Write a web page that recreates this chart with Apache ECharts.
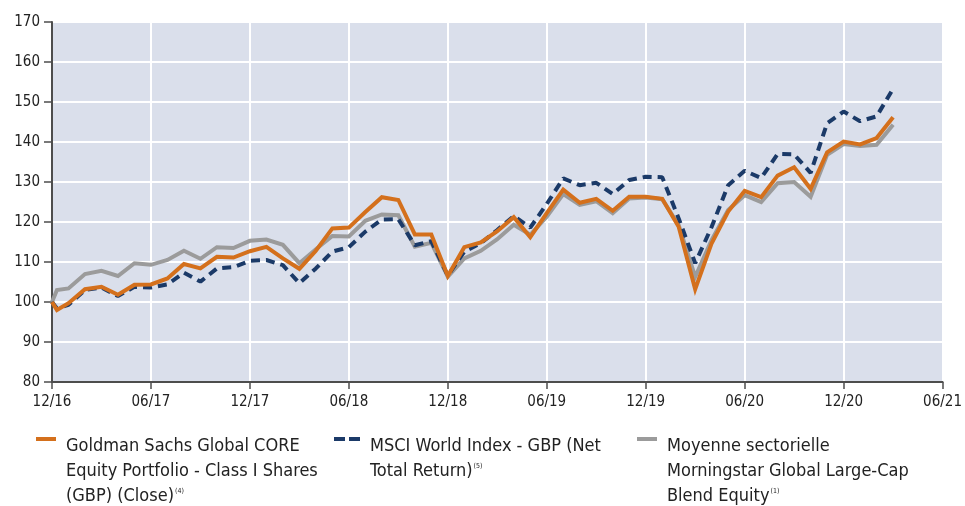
<!DOCTYPE html>
<html>
<head>
<meta charset="utf-8">
<script src="https://cdn.jsdelivr.net/npm/echarts@6/dist/echarts.min.js"></script>
<style>
  html, body { margin: 0; padding: 0; background: #fff; }
  #chart { width: 965px; height: 506px; }
</style>
</head>
<body>
<div id="chart"></div>
<script>
// months since 12/16 : start point, Dec 2016 close, then Jan 2017 .. Mar 2021
const monthPos = [0, 0.3].concat(Array.from({ length: 51 }, (_, i) => i + 1))
const xTickLabels = ['12/16', '06/17', '12/17', '06/18', '12/18', '06/19', '12/19', '06/20', '12/20', '06/21']

const fund = [
  100, 98.0,
  99.7, 103.2, 103.8, 101.8, 104.3, 104.4, 105.9, 109.5, 108.4, 111.3, 111.1, 112.7,
  113.8, 110.9, 108.3, 112.8, 118.4, 118.6, 122.5, 126.2, 125.5, 116.9, 116.9, 106.5,
  113.7, 114.9, 117.7, 121.2, 116.2, 122.2, 128.1, 124.8, 125.8, 122.8, 126.3, 126.3,
  125.8, 118.8, 103.2, 114.7, 122.6, 127.8, 126.2, 131.6, 133.7, 128.3, 137.4, 140.1,
  139.4, 141.0, 146.2
]
const msci = [
  100, 98.4,
  99.3, 103.0, 103.6, 101.5, 103.8, 103.6, 104.4, 107.3, 105.1, 108.4, 108.7, 110.3,
  110.5, 109.2, 104.7, 108.4, 112.6, 113.7, 117.6, 120.6, 120.7, 114.2, 115.2, 106.6,
  112.6, 114.7, 118.0, 121.5, 118.6, 124.5, 130.9, 129.2, 129.8, 127.0, 130.5, 131.3,
  131.2, 120.9, 109.7, 118.8, 129.2, 132.8, 131.0, 137.0, 136.9, 132.3, 144.7, 147.6,
  145.2, 146.4, 153.3
]
const sector = [
  100, 103.0,
  103.4, 107.0, 107.8, 106.5, 109.7, 109.3, 110.5, 112.8, 110.8, 113.7, 113.5, 115.3,
  115.6, 114.3, 109.7, 113.2, 116.5, 116.4, 120.3, 121.9, 121.7, 113.8, 114.8, 106.3,
  110.9, 112.8, 115.7, 119.3, 116.8, 121.3, 127.0, 124.3, 125.2, 122.2, 125.9, 126.1,
  125.7, 119.2, 106.3, 115.5, 123.0, 126.7, 125.0, 129.7, 130.0, 126.3, 136.8, 139.5,
  139.0, 139.3, 144.3
]

const names = [
  'Goldman Sachs Global CORE Equity Portfolio - Class I Shares (GBP) (Close)',
  'MSCI World Index - GBP (Net Total Return)',
  'Moyenne sectorielle Morningstar Global Large-Cap Blend Equity'
]
const legendLines = [
  ['Goldman Sachs Global CORE', 'Equity Portfolio - Class I Shares', '(GBP) (Close)'],
  ['MSCI World Index - GBP (Net', 'Total Return)'],
  ['Moyenne sectorielle', 'Morningstar Global Large-Cap', 'Blend Equity']
]
const legendNotes = ['(4)', '(5)', '(1)']

const FONT = '"Liberation Sans Narrow", "DejaVu Sans Condensed", sans-serif'
const ORANGE = '#d4701c'
const NAVY = '#1b3a68'
const GREY = '#9b9b9b'

function pairs(vals) {
  return vals.map((v, i) => [monthPos[i], v])
}

function legendAt(idx, left, icon, width) {
  const lines = legendLines[idx]
  const nLines = lines.length
  return {
    show: true,
    data: [names[idx]],
    left: left,
    top: 437,
    padding: 0,
    selectedMode: false,
    icon: icon,
    itemWidth: width,
    itemHeight: 4,
    formatter: () => lines.map((l, i) => '{t|' + l + '}' + (i === nLines - 1 ? '{s|' + legendNotes[idx] + '}' : '')).join('\n'),
    textStyle: {
      fontFamily: FONT,
      fontSize: 18,
      color: '#222',
      padding: [65 - (3 - nLines) * 25, 0, 0, 5],
      rich: {
        t: { fontFamily: FONT, fontSize: 18, lineHeight: 25, color: '#222' },
        s: { fontFamily: FONT, fontSize: 7, color: '#222', verticalAlign: 'top', padding: [4, 0, 0, 1] }
      }
    }
  }
}

const chart = echarts.init(document.getElementById('chart'))

chart.setOption({
  animation: false,
  grid: {
    left: 52, right: 20, top: 22, bottom: 124,
    show: true, backgroundColor: '#dadfeb', borderWidth: 0
  },
  xAxis: {
    type: 'value', min: 0, max: 54, interval: 6,
    axisLine: { lineStyle: { color: '#4d4d4d', width: 2 } },
    axisTick: { show: true, length: 7, lineStyle: { color: '#4d4d4d', width: 1.5 } },
    axisLabel: {
      color: '#222', fontFamily: FONT, fontSize: 15, margin: 13,
      formatter: v => xTickLabels[Math.round(v / 6)] || ''
    },
    splitLine: { show: true, lineStyle: { color: '#ffffff', width: 2 } }
  },
  yAxis: {
    type: 'value', min: 80, max: 170, interval: 10,
    axisLine: { show: true, lineStyle: { color: '#4d4d4d', width: 2 } },
    axisTick: { show: true, length: 8, lineStyle: { color: '#4d4d4d', width: 1.5 } },
    axisLabel: { color: '#222', fontFamily: FONT, fontSize: 15, margin: 12 },
    splitLine: { show: true, lineStyle: { color: '#ffffff', width: 2 } }
  },
  legend: [
    legendAt(0, 36, 'rect', 20),
    legendAt(1, 334, 'path://M0,0h11v4h-11z M15,0h11v4h-11z', 26),
    legendAt(2, 637, 'rect', 20)
  ],
  series: [
    {
      name: names[0], type: 'line', data: pairs(fund), z: 4,
      symbol: 'none', lineStyle: { color: ORANGE, width: 4, join: 'miter' }, itemStyle: { color: ORANGE }
    },
    {
      name: names[1], type: 'line', data: pairs(msci), z: 3,
      symbol: 'none', lineStyle: { color: NAVY, width: 4, type: [9, 6] }, itemStyle: { color: NAVY }
    },
    {
      name: names[2], type: 'line', data: pairs(sector), z: 2,
      symbol: 'none', lineStyle: { color: GREY, width: 4, join: 'miter' }, itemStyle: { color: GREY }
    }
  ]
})
</script>
</body>
</html>
